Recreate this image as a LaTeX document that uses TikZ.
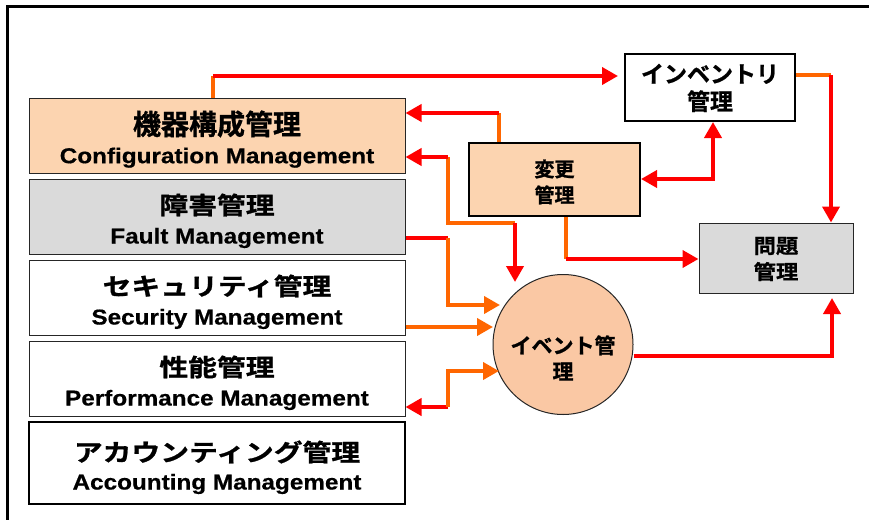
\documentclass[tikz,border=0pt]{standalone}
\usepackage{fontspec}
\usetikzlibrary{arrows.meta}
\newfontfamily\jpA{Noto Sans CJK JP Bold}[FakeStretch=1.2,FakeBold=1]
\newfontfamily\jpB{Noto Sans CJK JP Bold}[FakeBold=1]
\newfontfamily\jpC{Noto Sans CJK JP Bold}[FakeStretch=1.12,FakeBold=1]
\newfontfamily\enB{Liberation Sans}[FakeStretch=1.13,FakeBold=0.6]
\definecolor{cred}{RGB}{255,0,0}
\definecolor{corg}{RGB}{255,102,0}
\definecolor{cfgfill}{RGB}{252,212,176}
\definecolor{evfill}{RGB}{250,200,164}
\definecolor{dotfill}{RGB}{218,218,218}
\tikzset{
  box/.style={draw=black!85, line width=1pt, minimum width=376pt, inner sep=0pt, minimum height=75pt},
  jpline/.style={font=\jpA\fontsize{24}{24}\selectfont, inner sep=0pt},
  enline/.style={font=\enB\bfseries\fontsize{21.5}{21.5}\selectfont, inner sep=0pt, anchor=base},
  small/.style={align=center, inner sep=0pt},
  redl/.style={draw=cred, line width=3.8pt},
  orgl/.style={draw=corg, line width=3.8pt},
  tip/.tip={Triangle[length=16pt,width=17pt]},
  redarr/.style={redl, -tip},
  orgarr/.style={orgl, -tip},
}
\begin{document}
\begin{tikzpicture}[x=1pt,y=-1pt]
\useasboundingbox (0,0) rectangle (869,519);
% frame
\draw[line width=3pt, line cap=rect] (7,519) -- (7,7) -- (869,7);

% left boxes
\node[box, fill=cfgfill] (cfg) at (217,135.5) {};
\node[jpline, font=\jpB\fontsize{28}{28}\selectfont] (cfgj) at (217,124) {機器構成管理};
\node[enline] (cfge) at (217,163.2) {Configuration Management};

\node[box, fill=dotfill] (flt) at (217,216.5) {};
\node[jpline] (fltj) at (217,205) {障害管理};
\node[enline] (flte) at (217,243.5) {Fault Management};

\node[box, fill=white] (sec) at (217,297.5) {};
\node[jpline] (secj) at (217,286) {セキュリティ管理};
\node[enline] (sece) at (217,324.5) {Security Management};

\node[box, fill=white] (prf) at (217,378.5) {};
\node[jpline] (prfj) at (217,367) {性能管理};
\node[enline] (prfe) at (217,405.5) {Performance Management};

\node[box, fill=white, draw=black, line width=2pt, minimum height=82pt] (acc) at (217,463) {};
\node[jpline] (accj) at (217,452) {アカウンティング管理};
\node[enline] (acce) at (217,489.5) {Accounting Management};

% right side nodes
\node[draw=black, line width=2pt, fill=white, minimum width=170pt, minimum height=67pt] (inv) at (710,87.5) {};
\node[small, font=\jpB\fontsize{23}{27.5}\selectfont] (invt) at (710,88) {インベントリ\\管理};

\node[draw=black, line width=2pt, fill=cfgfill, minimum width=171pt, minimum height=73pt] (hen) at (554.5,179.5) {};
\node[small, font=\jpB\fontsize{20}{26}\selectfont] (hent) at (554.5,182) {変更\\管理};

\node[draw=black!85, line width=1pt, fill=dotfill, minimum width=154pt, minimum height=70pt] (mon) at (776,258) {};
\node[small, font=\jpC\fontsize{20}{26}\selectfont] (mont) at (776,259) {問題\\管理};

\node[circle, draw=black!85, line width=1pt, fill=evfill, minimum size=140pt, inner sep=0pt] (ev) at (563,344.5) {};
\node[small, font=\jpB\fontsize{21}{26}\selectfont] (evt) at (563,358) {イベント管\\理};

% connectors
\coordinate (p1) at (213,76);
\draw[orgl] (cfg.north -| p1) -- (p1);
\draw[redarr, shorten >=6pt] (p1) -- (p1 -| inv.west);

\coordinate (p2) at (499,113);
\draw[orgl] (hen.north -| p2) -- (p2);
\draw[redarr] (p2) -- (p2 -| cfg.east);

\coordinate (q1) at (448,157);
\coordinate (q2) at (448,223);
\coordinate (q3) at (515,223);
\coordinate (e1) at (515,282);
\draw[orgl] (q1) -- (q2) -- (q3);
\draw[redarr] (q1) -- (q1 -| cfg.east);
\draw[redarr] (q3) -- (e1);

\coordinate (r1) at (448,238);
\coordinate (r2) at (448,305);
\coordinate (e2) at (500,305);
\draw[redl] (r1 -| flt.east) -- (r1);
\draw[orgarr] (r1) -- (r2) -- (e2);

\coordinate (e3) at (493,327);
\draw[orgarr] (e3 -| sec.east) -- (e3);

\coordinate (t1) at (448,407);
\coordinate (t2) at (448,371);
\coordinate (e4) at (499,371);
\draw[redarr] (t1) -- (t1 -| prf.east);
\draw[orgarr] (t1) -- (t2) -- (e4);

\coordinate (u1) at (832,356);
\coordinate (u2) at (832,298);
\draw[redarr] (u1 -| ev.east) -- (u1) -- (u2);

\coordinate (v1) at (566,259);
\draw[orgl] (hen.south -| v1) -- (v1);
\draw[redarr] (v1) -- (v1 -| mon.west);

\coordinate (w1) at (713,179);
\draw[redl, tip-tip] (w1 -| hen.east) -- (w1) -- (w1 |- inv.south);

\coordinate (x1) at (831,75);
\draw[orgl] (x1 -| inv.east) -- (x1);
\draw[redarr] (x1) -- (x1 |- mon.north);
\end{tikzpicture}
\end{document}
